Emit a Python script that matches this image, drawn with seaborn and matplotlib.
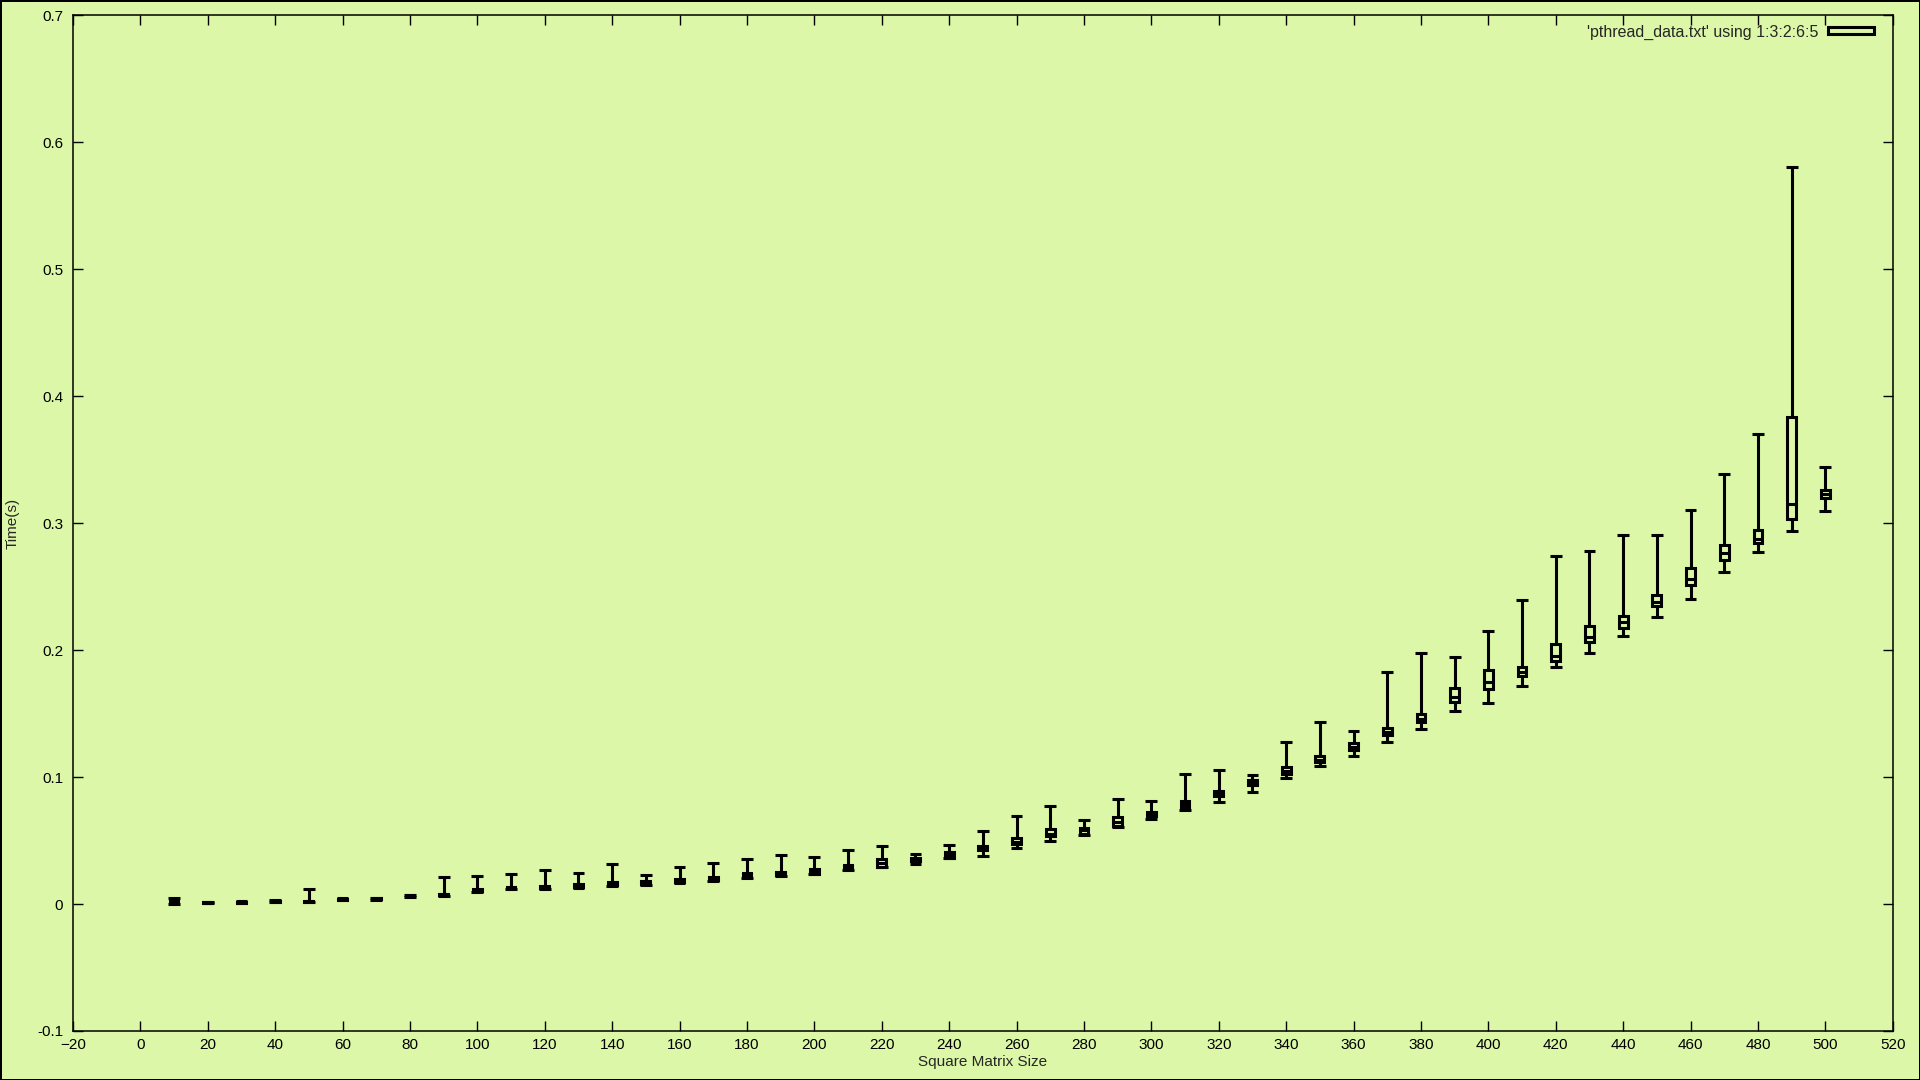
import matplotlib
matplotlib.use('Agg')
import matplotlib.pyplot as plt
import matplotlib.patches as mpatches
import numpy as np
import seaborn as sns

# values (pthread_data.txt, using 1:3:2:6:5)
sizes = list(range(10, 510, 10))
box_lo = [0.0008, 0.0006, 0.0011, 0.0014, 0.0017, 0.0030, 0.0037, 0.0060, 0.0068, 0.0099,
          0.0123, 0.0123, 0.0131, 0.0146, 0.0154, 0.0170, 0.0186, 0.0225, 0.0225, 0.0239,
          0.0272, 0.0294, 0.0339, 0.0365, 0.0422, 0.0475, 0.0535, 0.0548, 0.0611, 0.0693,
          0.0764, 0.0847, 0.0934, 0.1028, 0.1118, 0.1217, 0.1328, 0.1433, 0.1593, 0.1695,
          0.1798, 0.1913, 0.2065, 0.2176, 0.2346, 0.2514, 0.2706, 0.2845, 0.3036, 0.3199]
box_hi = [0.0025, 0.0016, 0.0019, 0.0026, 0.0025, 0.0042, 0.0049, 0.0068, 0.0082, 0.0118,
          0.0137, 0.0144, 0.0160, 0.0176, 0.0183, 0.0199, 0.0215, 0.0246, 0.0254, 0.0278,
          0.0309, 0.0357, 0.0362, 0.0412, 0.0457, 0.0520, 0.0590, 0.0598, 0.0687, 0.0727,
          0.0813, 0.0892, 0.0979, 0.1076, 0.1162, 0.1265, 0.1383, 0.1493, 0.1701, 0.1843,
          0.1863, 0.2052, 0.2186, 0.2272, 0.2438, 0.2643, 0.2824, 0.2949, 0.3839, 0.3262]
median = [0.0015, 0.0010, 0.0015, 0.0020, 0.0020, 0.0036, 0.0043, 0.0064, 0.0075, 0.0110,
          0.0130, 0.0133, 0.0145, 0.0160, 0.0170, 0.0185, 0.0200, 0.0235, 0.0240, 0.0260,
          0.0291, 0.0325, 0.0350, 0.0390, 0.0433, 0.0490, 0.0551, 0.0585, 0.0648, 0.0710,
          0.0787, 0.0866, 0.0950, 0.1050, 0.1136, 0.1239, 0.1351, 0.1457, 0.1627, 0.1750,
          0.1831, 0.1955, 0.2105, 0.2225, 0.2380, 0.2564, 0.2766, 0.2879, 0.3152, 0.3228]
whisk_lo = [0.0004, 0.0005, 0.0010, 0.0013, 0.0015, 0.0028, 0.0035, 0.0059, 0.0066, 0.0097,
            0.0121, 0.0120, 0.0128, 0.0143, 0.0150, 0.0167, 0.0183, 0.0202, 0.0222, 0.0236,
            0.0268, 0.0290, 0.0317, 0.0362, 0.0380, 0.0443, 0.0493, 0.0545, 0.0605, 0.0669,
            0.0737, 0.0806, 0.0884, 0.0994, 0.1089, 0.1162, 0.1280, 0.1380, 0.1522, 0.1585,
            0.1719, 0.1863, 0.1979, 0.2113, 0.2262, 0.2404, 0.2619, 0.2774, 0.2939, 0.3094]
whisk_hi = [0.0050, 0.0018, 0.0020, 0.0028, 0.0118, 0.0044, 0.0051, 0.0069, 0.0210, 0.0217,
            0.0236, 0.0265, 0.0241, 0.0312, 0.0225, 0.0288, 0.0320, 0.0351, 0.0383, 0.0367,
            0.0422, 0.0454, 0.0391, 0.0461, 0.0572, 0.0690, 0.0769, 0.0664, 0.0829, 0.0808,
            0.1028, 0.1052, 0.1018, 0.1278, 0.1435, 0.1365, 0.1829, 0.1979, 0.1942, 0.2154,
            0.2396, 0.2745, 0.2782, 0.2908, 0.2908, 0.3107, 0.3388, 0.3703, 0.5806, 0.3444]

legend_label = "'pthread_data.txt' using 1:3:2:6:5"

sns.set_theme(style='ticks')
plt.rcParams['font.family'] = ['Liberation Sans', 'DejaVu Sans']
plt.rcParams['font.size'] = 11

bg = '#dbf7a7'
lw = 2.2

fig = plt.figure(figsize=(19.2, 10.8), dpi=100, facecolor=bg, edgecolor='black', linewidth=2)
ax = fig.add_axes([0.038, 0.0454, 0.9478, 0.9404])
ax.set_facecolor(bg)

x = np.array(sizes)
lo = np.array(box_lo)
hi = np.array(box_hi)

ax.bar(x, hi - lo, bottom=lo, width=2.6, fill=False, edgecolor='black', linewidth=lw)
ax.vlines(x, hi, whisk_hi, color='black', linewidth=lw)
ax.vlines(x, whisk_lo, lo, color='black', linewidth=lw)
ax.hlines(whisk_hi, x - 1.75, x + 1.75, color='black', linewidth=lw)
ax.hlines(whisk_lo, x - 1.75, x + 1.75, color='black', linewidth=lw)
ax.hlines(median, x - 1.3, x + 1.3, color='black', linewidth=lw)

ax.set_xlim(-20, 520)
ax.set_ylim(-0.1, 0.7)
ax.set_xticks(np.arange(-20, 521, 20))
ax.set_yticks(np.arange(-0.1, 0.71, 0.1))
ax.set_yticklabels(['-0.1', '0', '0.1', '0.2', '0.3', '0.4', '0.5', '0.6', '0.7'])
ax.tick_params(direction='in', length=7, width=1, top=True, right=True,
               colors='black', labelsize=11)
ax.tick_params(axis='y', pad=7)
ax.tick_params(axis='x', pad=5)
for s in ax.spines.values():
    s.set_color('black')
    s.set_linewidth(1.1)

ax.set_xlabel('Square Matrix Size', fontsize=11, labelpad=2)
ax.set_ylabel('Time(s)', fontsize=11)
ax.yaxis.set_label_coords(-0.0295, 0.5)

handle = mpatches.Rectangle((0, 0), 1, 1, facecolor='none', edgecolor='black', linewidth=lw)
ax.legend([handle], [legend_label], loc='center right', bbox_to_anchor=(0.976, 0.9704),
          bbox_transform=fig.transFigure, frameon=False, markerfirst=False,
          handlelength=2.9, handleheight=0.33, handletextpad=0.55,
          borderpad=0, borderaxespad=0, fontsize=11.5)

fig.savefig('out.png', dpi=100, facecolor=bg, edgecolor='black')
